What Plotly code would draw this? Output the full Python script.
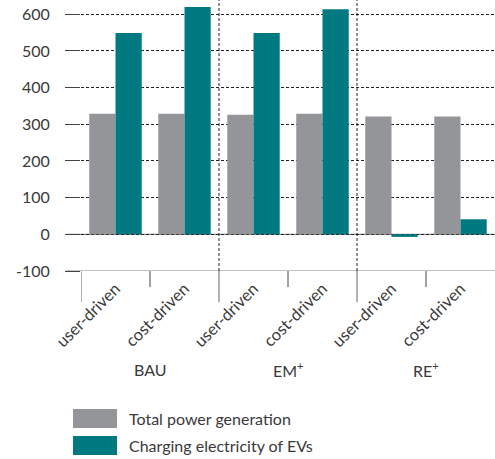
import plotly.graph_objects as go

categories = ["user-driven", "cost-driven", "user-driven", "cost-driven", "user-driven", "cost-driven"]
scenarios = ["BAU", "EM<sup>+</sup>", "RE<sup>+</sup>"]
total_generation = [329, 329, 326, 329, 321, 321]
charging_evs = [549, 620, 549, 614, -7, 41]
series_names = ["Total power generation", "Charging electricity of EVs"]
y_ticks = [-100, 0, 100, 200, 300, 400, 500, 600]
y_tick_text = ["-100", "0", "100", "200", "300", "400", "500", "600"]

GRAY = "#939598"
TEAL = "#007A80"
TXT = "#3a3a3a"
FONT = "Lato"

x = list(range(len(categories)))

fig = go.Figure()
fig.add_trace(go.Bar(x=x, y=total_generation, name=series_names[0], marker=dict(color=GRAY, line=dict(width=0))))
fig.add_trace(go.Bar(x=x, y=charging_evs, name=series_names[1], marker=dict(color=TEAL, line=dict(width=0))))

shapes = []
# gray solid base lines at 0 and -100 (under dashed grid)
for yv in [0, -100]:
    shapes.append(dict(type="line", xref="paper", yref="y", x0=-0.036, x1=1, y0=yv, y1=yv,
                       line=dict(color="#8a8a8a", width=1.2), layer="below"))
# dotted separators between scenarios
for b in [1.5, 3.5]:
    shapes.append(dict(type="line", xref="x", yref="paper", x0=b, x1=b, y0=0, y1=1,
                       line=dict(color="#222", width=1, dash="3px,2px"), layer="above"))
# category boundary ticks below axis
for b in [-0.5, 1.5, 3.5]:
    shapes.append(dict(type="line", xref="x", yref="paper", x0=b, x1=b, y0=0, y1=-0.115,
                       line=dict(color="#666", width=1)))
for b in [0.5, 2.5, 4.5]:
    shapes.append(dict(type="line", xref="x", yref="paper", x0=b, x1=b, y0=0, y1=-0.059,
                       line=dict(color="#444", width=1)))

# legend boxes
legend_rows = [(-0.509, -0.579, GRAY), (-0.609, -0.679, TEAL)]
for y0, y1, c in legend_rows:
    shapes.append(dict(type="rect", xref="paper", yref="paper", x0=-0.0193, x1=0.087, y0=y0, y1=y1,
                       fillcolor=c, line=dict(width=0)))

annotations = []
for i, s in enumerate(scenarios):
    annotations.append(dict(x=2 * i + 0.5, y=-0.365, xref="x", yref="paper", text=s, showarrow=False,
                            font=dict(family=FONT, size=16, color=TXT), xanchor="center", yanchor="middle"))
for (y0, y1, c), name in zip(legend_rows, series_names):
    annotations.append(dict(x=0.11, y=(y0 + y1) / 2, xref="paper", yref="paper", text=name, showarrow=False,
                            font=dict(family=FONT, size=16, color=TXT), xanchor="left", yanchor="middle"))

fig.update_layout(
    width=495, height=459,
    margin=dict(l=81, r=0, t=0, b=188, autoexpand=False),
    paper_bgcolor="white", plot_bgcolor="white",
    barmode="group", bargap=0.24, bargroupgap=0,
    showlegend=False,
    font=dict(family=FONT, size=16, color=TXT),
    shapes=shapes, annotations=annotations,
    xaxis=dict(tickmode="array", tickvals=x, ticktext=categories, tickangle=-45,
               range=[-0.5, 5.5], showgrid=False, zeroline=False, ticks="",
               showline=False, ticklabelstandoff=4, automargin=False,
               tickfont=dict(family=FONT, size=16.5, color=TXT)),
    yaxis=dict(range=[-100, 639], tickmode="array", tickvals=y_ticks, ticktext=y_tick_text,
               ticks="outside", ticklen=15, tickcolor="#444",
               tickwidth=1, showgrid=True, gridcolor="#222", griddash="3px,2px", gridwidth=1,
               zeroline=False, showline=False, ticklabelstandoff=12, automargin=False,
               tickfont=dict(family=FONT, size=16, color=TXT)),
)

fig.write_html("out.html", config={"displayModeBar": False},
               post_script="document.body.style.margin='0';document.body.style.overflow='hidden';")
